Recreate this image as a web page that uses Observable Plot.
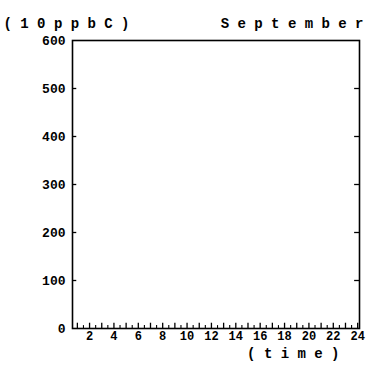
<!DOCTYPE html>
<html>
<head>
<meta charset="utf-8">
<script src="https://cdn.jsdelivr.net/npm/d3@7"></script>
<script src="https://cdn.jsdelivr.net/npm/@observablehq/plot@0.6"></script>
<style>
  html, body { margin: 0; padding: 0; background: #fff; }
  #chart svg { display: block; }
</style>
</head>
<body>
<div id="chart"></div>
<script>
const unitLabel = "(10ppbC)";
const monthLabel = "September";
const xAxisLabel = "(time)";
const xTickValues = [2, 4, 6, 8, 10, 12, 14, 16, 18, 20, 22, 24];
const xMajorTicks = [1, 2, 3, 4, 5, 6, 7, 8, 9, 10, 11, 12, 13, 14, 15, 16, 17, 18, 19, 20, 21, 22, 23, 24];
const xMinorTicks = [1.5, 2.5, 3.5, 4.5, 5.5, 6.5, 7.5, 8.5, 9.5, 10.5, 11.5, 12.5, 13.5, 14.5, 15.5, 16.5, 17.5, 18.5, 19.5, 20.5, 21.5, 22.5, 23.5];
const yTickValues = [0, 100, 200, 300, 400, 500, 600];

const font = "'Liberation Mono', 'DejaVu Sans Mono', monospace";
const inner = yTickValues.filter(d => d > 0 && d < 600);

const chart = Plot.plot({
  width: 367,
  height: 366,
  marginLeft: 72,
  marginRight: 8,
  marginTop: 40,
  marginBottom: 38,
  style: {fontFamily: font, fontSize: "14px", fontWeight: "bold", color: "#000", background: "#fff"},
  x: {domain: [0.6, 24.15], axis: null},
  y: {domain: [0, 600], axis: null},
  marks: [
    Plot.frame({stroke: "#000", strokeWidth: 1.6}),
    // y ticks inward on left and right edges
    Plot.ruleY(inner, {y: d => d, x1: 0.6, x2: 0.95, stroke: "#000", strokeWidth: 1.3}),
    Plot.ruleY(inner, {y: d => d, x1: 23.75, x2: 24.15, stroke: "#000", strokeWidth: 1.3}),
    // x ticks inward from bottom
    Plot.ruleX(xMajorTicks, {x: d => d, y1: 0, y2: 11, stroke: "#000", strokeWidth: 1.3}),
    Plot.ruleX(xMinorTicks, {x: d => d, y1: 0, y2: 6, stroke: "#000", strokeWidth: 1.1}),
    // y tick labels
    Plot.text(yTickValues, {x: 0.6, y: d => d, text: d => String(d), dx: -7, textAnchor: "end", fontSize: 13, fontWeight: "bold", letterSpacing: "-0.5px"}),
    // x tick labels
    Plot.text(xTickValues, {x: d => d, y: 0, text: d => String(d), dy: 8, fontSize: 12, fontWeight: "bold", letterSpacing: "-1px"}),
    // x axis label
    Plot.text([xAxisLabel], {frameAnchor: "bottom-right", text: d => d.split("").join(" "), dx: -20, dy: 29, fontSize: 14, fontWeight: "bold", textAnchor: "end"}),
    // unit label
    Plot.text([unitLabel], {frameAnchor: "top-left", text: d => d.split("").join(" "), dx: -69, dy: -22, fontSize: 14, fontWeight: "bold", textAnchor: "start", letterSpacing: "0.5px"}),
    // month label
    Plot.text([monthLabel], {frameAnchor: "top-right", text: d => d.split("").join(" "), dx: 4, dy: -22, fontSize: 14, fontWeight: "bold", textAnchor: "end", letterSpacing: "1.5px"})
  ]
});
document.getElementById("chart").appendChild(chart);
</script>
</body>
</html>
